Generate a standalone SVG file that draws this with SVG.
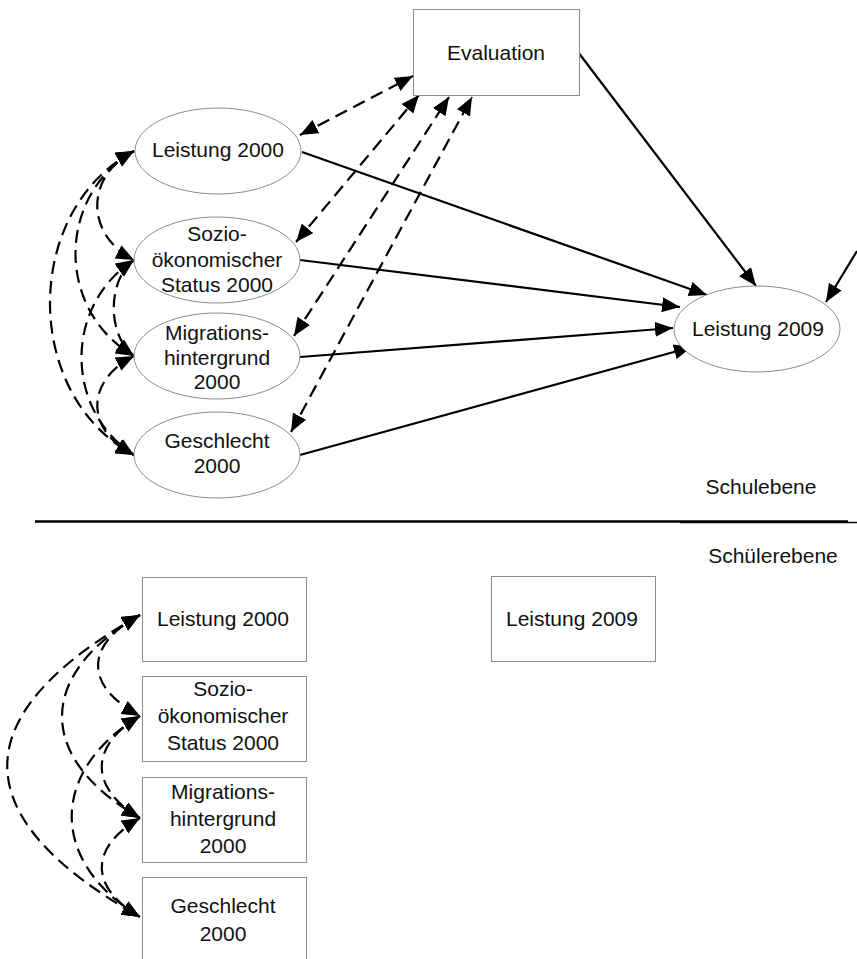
<svg xmlns="http://www.w3.org/2000/svg" width="857" height="959" viewBox="0 0 857 959">
<style>
text{font-family:"Liberation Sans",Arial,sans-serif;font-size:21px;fill:#111;text-anchor:middle}
.node{fill:#fff;stroke:#8c8c8c;stroke-width:1}
.solid{fill:none;stroke:#000;stroke-width:2.2;marker-end:url(#ah)}
.dash{fill:none;stroke:#000;stroke-width:2.2;stroke-dasharray:13 7;marker-end:url(#ah);marker-start:url(#ah)}
</style>
<defs>
<marker id="ah" markerUnits="userSpaceOnUse" markerWidth="20" markerHeight="16" refX="18" refY="7.5" orient="auto-start-reverse" viewBox="0 0 20 16">
<path d="M0,0 L18,7.5 L0,15 z" fill="#000"/>
</marker>
</defs>
<rect width="857" height="959" fill="#fff"/>
<g id="connectors">
<path class="solid" d="M578,52 L756,286"/>
<path class="solid" d="M857,251 L826,302"/>
<path class="solid" d="M302,152 L707,295"/>
<path class="solid" d="M300,260 L680,307"/>
<path class="solid" d="M300,357 L673,328"/>
<path class="solid" d="M300,455 L692,347"/>
<path class="dash" d="M300,135 L413,76"/>
<path class="dash" d="M296,242 L419,95"/>
<path class="dash" d="M294,336 L449,97"/>
<path class="dash" d="M291,432 L472,97"/>
<path class="dash" d="M134,151 C22,211 22,395 134,455"/>
<path class="dash" d="M134,151 C56,196 56,311 134,356"/>
<path class="dash" d="M134,151 C85,176 85,235 134,260"/>
<path class="dash" d="M134,260 C107,280 107,336 134,356"/>
<path class="dash" d="M134,260 C64,305 64,410 134,455"/>
<path class="dash" d="M134,356 C85,381 85,430 134,455"/>
<path class="dash" d="M140,615 C-37,715 -37,817 140,917"/>
<path class="dash" d="M140,615 C36,675 36,758 140,818"/>
<path class="dash" d="M140,615 C84,645 84,686 140,716"/>
<path class="dash" d="M140,716 C89,746 89,788 140,818"/>
<path class="dash" d="M140,716 C49,771 49,862 140,917"/>
<path class="dash" d="M140,818 C89,848 89,887 140,917"/>
</g>
<g id="separator">
<line x1="35" y1="521.5" x2="848" y2="521.5" stroke="#000" stroke-width="2.5"/>
<line x1="680" y1="522.5" x2="857" y2="522.5" stroke="#000" stroke-width="1.5"/>
</g>
<g id="evaluation"><rect class="node" x="413.5" y="9.5" width="166" height="86"/><text x="496" y="60">Evaluation</text></g>
<g id="leistung2000"><ellipse class="node" cx="218" cy="151" rx="83" ry="43"/><text x="218" y="157">Leistung 2000</text></g>
<g id="ses2000"><ellipse class="node" cx="217" cy="260" rx="83" ry="43"/><text x="217" y="241">Sozio-</text><text x="217" y="267">ökonomischer</text><text x="217" y="292">Status 2000</text></g>
<g id="migration2000"><ellipse class="node" cx="217" cy="356" rx="83" ry="43"/><text x="217" y="340">Migrations-</text><text x="217" y="365">hintergrund</text><text x="217" y="389">2000</text></g>
<g id="geschlecht2000"><ellipse class="node" cx="217" cy="455" rx="83" ry="43"/><text x="217" y="448">Geschlecht</text><text x="217" y="473">2000</text></g>
<g id="leistung2009"><ellipse class="node" cx="757" cy="329" rx="83" ry="43"/><text x="758" y="336">Leistung 2009</text></g>
<g id="schulebene"><text x="761" y="494">Schulebene</text></g>
<g id="schuelerebene"><text x="773" y="563">Schülerebene</text></g>
<g id="s_leistung2000"><rect class="node" x="142.5" y="577.5" width="164" height="84"/><text x="223" y="626">Leistung 2000</text></g>
<g id="s_ses2000"><rect class="node" x="142.5" y="676.5" width="164" height="85"/><text x="223" y="696">Sozio-</text><text x="223" y="723">ökonomischer</text><text x="223" y="750">Status 2000</text></g>
<g id="s_migration2000"><rect class="node" x="142.5" y="777.5" width="164" height="85"/><text x="223" y="799">Migrations-</text><text x="223" y="826">hintergrund</text><text x="223" y="853">2000</text></g>
<g id="s_geschlecht2000"><rect class="node" x="142.5" y="877.5" width="164" height="90"/><text x="223" y="913">Geschlecht</text><text x="223" y="941">2000</text></g>
<g id="s_leistung2009"><rect class="node" x="491.5" y="576.5" width="164" height="85"/><text x="572" y="626">Leistung 2009</text></g>
</svg>
